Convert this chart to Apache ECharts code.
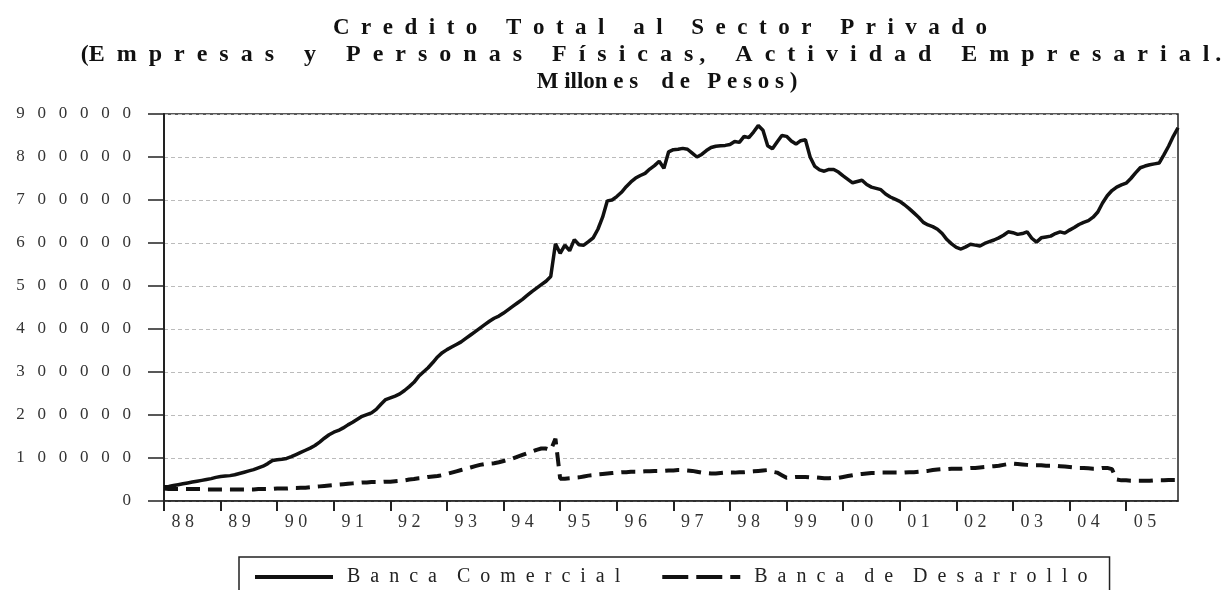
<!DOCTYPE html>
<html>
<head>
<meta charset="utf-8">
<script src="https://cdn.jsdelivr.net/npm/echarts@6/dist/echarts.min.js"></script>
<style>
  html, body { margin: 0; padding: 0; background: #fff; }
  #chart { width: 1229px; height: 590px; }
</style>
</head>
<body>
<div id="chart"></div>
<script>
  // años del eje (etiquetas de dos dígitos)
  const years = ['88', '89', '90', '91', '92', '93', '94', '95', '96',
                 '97', '98', '99', '00', '01', '02', '03', '04', '05'];

  // Banca Comercial, miles de millones de pesos, mensual ene-88 .. dic-05
  const comercialMiles = [
    33, 34, 36, 38, 40, 42, 44, 46, 48, 50, 52, 55,
    57, 58, 59, 61, 64, 67, 70, 73, 77, 81, 87, 94,
    96, 97, 99, 103, 108, 113, 118, 123, 129, 137, 146, 154,
    160, 164, 170, 177, 183, 190, 197, 201, 205, 213, 225, 236,
    240, 244, 249, 257, 266, 276, 290, 300, 310, 322, 335, 345,
    352, 358, 364, 370, 378, 386, 394, 402, 410, 418, 425, 430,
    437, 445, 453, 461, 469, 478, 487, 495, 503, 511, 522, 598,
    576, 595, 582, 608, 596, 595, 603, 612, 632, 660, 698, 700,
    708, 718, 731, 742, 751, 757, 762, 772, 780, 790, 774, 812,
    817, 818, 820, 818, 809, 800, 806, 815, 822, 825, 826, 827,
    829, 836, 834, 848, 845, 858, 873, 862, 826, 819, 835, 850,
    848, 837, 830, 838, 840, 800, 778, 770, 767, 771, 771, 765,
    756, 748, 740, 743, 746, 736, 730, 727, 724, 714, 707, 702,
    697, 689, 680, 670, 660, 648, 642, 638, 632, 622, 608, 598,
    590, 586, 591, 597, 595, 593, 599, 603, 607, 612, 618, 626,
    624, 620, 622, 626, 611, 602, 612, 614, 616, 622, 626, 623,
    630, 636, 643, 648, 652, 660, 672, 693, 710, 722, 730, 735,
    739, 750, 763, 775, 779, 782, 784, 786, 805, 825, 848, 868
  ];

  // Banca de Desarrollo, mismo periodo
  const desarrolloMiles = [
    29, 28, 28, 28, 28, 28, 28, 28, 28, 27, 27, 27,
    27, 27, 27, 27, 27, 27, 27, 27, 28, 28, 28, 28,
    29, 29, 29, 30, 30, 31, 31, 32, 33, 34, 35, 36,
    37, 38, 39, 40, 41, 42, 43, 43, 44, 44, 44, 45,
    45, 46, 47, 48, 50, 51, 53, 54, 56, 57, 58, 60,
    63, 66, 69, 72, 75, 78, 81, 84, 86, 87, 88, 90,
    93, 96, 99, 103, 107, 111, 115, 119, 122, 122, 118, 145,
    52, 52, 53, 54, 55, 57, 59, 60, 62, 63, 64, 65,
    66, 67, 67, 68, 68, 68, 69, 69, 70, 70, 70, 71,
    71, 72, 72, 71, 70, 68, 66, 65, 64, 64, 65, 66,
    66, 66, 67, 67, 68, 69, 70, 71, 72, 68, 66, 60,
    54, 55, 56, 56, 56, 55, 55, 54, 53, 53, 54, 54,
    56, 58, 60, 62, 63, 64, 65, 65, 66, 66, 66, 66,
    66, 66, 67, 67, 68, 69, 70, 72, 73, 74, 74, 75,
    75, 75, 76, 77, 77, 78, 79, 80, 81, 82, 84, 86,
    87, 86, 85, 84, 83, 83, 83, 82, 82, 82, 81, 80,
    79, 78, 77, 77, 76, 75, 75, 77, 77, 74, 50, 48,
    48, 47, 47, 47, 47, 47, 48, 48, 48, 49, 49, 49
  ];

  const serieNames = ['B  a  n  c  a    C  o  m  e  r  c  i  a  l',
                      'B  a  n  c  a    d  e    D  e  s  a  r  r  o  l  l  o'];

  // categorias mensuales
  const months = [];
  years.forEach(function (y) {
    for (let m = 1; m <= 12; m++) months.push(y + '-' + m);
  });

  const serif = 'Liberation Serif';
  const titleStyle = { fontFamily: serif, fontWeight: 'bold', fontSize: 23, color: '#111' };

  const chart = echarts.init(document.getElementById('chart'));
  chart.setOption({
    backgroundColor: '#fff',
    animation: false,
    title: [
      { text: 'C  r  e  d  i  t  o     T  o  t  a  l     a  l     S  e  c  t  o  r     P  r  i  v  a  d  o',
        left: 660, top: 17, textAlign: 'center', padding: 0, textStyle: titleStyle },
      { text: '(E  m  p  r  e  s  a  s     y     P  e  r  s  o  n  a  s     F  í  s  i  c  a  s ,     A  c  t  i  v  i  d  a  d     E  m  p  r  e  s  a  r  i  a  l .',
        left: 651, top: 43, textAlign: 'center', padding: 0,
        textStyle: Object.assign({}, titleStyle, { fontSize: 24 }) },
      { text: 'M illon e s    d e   P e s o s )',
        left: 667, top: 71, textAlign: 'center', padding: 0, textStyle: titleStyle }
    ],
    grid: {
      left: 164, right: 51, top: 114, bottom: 89,
      show: true, borderColor: '#222', borderWidth: 1.5
    },
    legend: {
      left: 239, top: 557,
      padding: [10, 22, 12, 16],
      borderColor: '#222', borderWidth: 1.5,
      itemWidth: 78, itemHeight: 4, itemGap: 42,
      textStyle: { fontFamily: serif, fontSize: 20, color: '#222', padding: [0, 0, 0, 9] },
      data: [
        { name: serieNames[0], icon: 'path://M0,0h78v4h-78z' },
        { name: serieNames[1], icon: 'path://M0,0h26v4h-26z M34,0h26v4h-26z M68,0h10v4h-10z' }
      ]
    },
    xAxis: {
      type: 'category',
      data: months,
      boundaryGap: false,
      axisLine: { lineStyle: { color: '#222', width: 1.5 } },
      axisTick: {
        interval: function (i) { return i % 12 === 0; },
        length: 10, lineStyle: { color: '#222', width: 2 }
      },
      axisLabel: {
        interval: function (i) { return i % 12 === 4; },
        formatter: function (v) { return v.slice(0, 2).split('').join(' '); },
        fontFamily: serif, fontSize: 18, color: '#333', margin: 12
      },
      splitLine: { show: false }
    },
    yAxis: {
      type: 'value',
      min: 0, max: 900000, interval: 100000,
      axisLine: { show: true, lineStyle: { color: '#222', width: 2 } },
      axisTick: { show: true, length: 16, lineStyle: { color: '#222', width: 1.5 } },
      axisLabel: {
        formatter: function (v) { return String(v).split('').join('   '); },
        fontFamily: serif, fontSize: 17, color: '#333', margin: 33
      },
      splitLine: { lineStyle: { color: '#bbb', type: [4, 3], width: 1 } }
    },
    series: [
      {
        name: serieNames[0], type: 'line', symbol: 'none',
        data: comercialMiles.map(function (v) { return v * 1000; }),
        lineStyle: { color: '#111', width: 3.5 }, itemStyle: { color: '#111' }
      },
      {
        name: serieNames[1], type: 'line', symbol: 'none',
        data: desarrolloMiles.map(function (v) { return v * 1000; }),
        lineStyle: { color: '#111', width: 4, type: [14, 8] }, itemStyle: { color: '#111' }
      }
    ]
  });
</script>
</body>
</html>
